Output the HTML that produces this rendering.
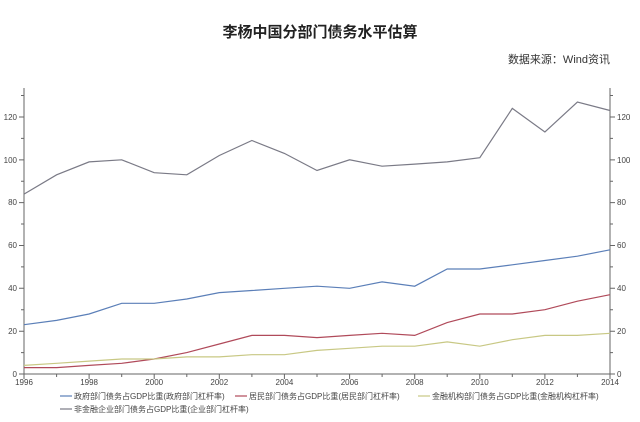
<!DOCTYPE html><html><head><meta charset="utf-8"><style>
body{margin:0;background:#fff;width:640px;height:417px;overflow:hidden;font-family:"Liberation Sans","Noto Sans CJK SC",sans-serif}
</style></head><body>
<svg width="640" height="417" xmlns="http://www.w3.org/2000/svg" font-family="Liberation Sans, Noto Sans CJK SC, sans-serif">
<text x="320" y="37" text-anchor="middle" font-size="15" font-weight="bold" fill="#222">李杨中国分部门债务水平估算</text>
<text x="610" y="63" text-anchor="end" font-size="11" fill="#333">数据来源：Wind资讯</text>
<g stroke="#666" stroke-width="1" fill="none">
<line x1="24" y1="88" x2="24" y2="374"/><line x1="610" y1="88" x2="610" y2="374"/><line x1="24" y1="374" x2="610" y2="374"/>
<path d="M19 374H24M19 331.2H24M19 288.3H24M19 245.5H24M19 202.6H24M19 159.9H24M19 117H24M21 352.6H24M21 309.7H24M21 266.9H24M21 224H24M21 181.2H24M21 138.4H24M21 95.5H24
M610 374H615M610 331.2H615M610 288.3H615M610 245.5H615M610 202.6H615M610 159.9H615M610 117H615M610 352.6H613M610 309.7H613M610 266.9H613M610 224H613M610 181.2H613M610 138.4H613M610 95.5H613
M24 374V379M56.6 374V377M89.1 374V379M121.7 374V377M154.2 374V379M186.8 374V377M219.3 374V379M251.9 374V377M284.4 374V379M317 374V377M349.6 374V379M382.1 374V377M414.7 374V379M447.2 374V377M479.8 374V379M512.3 374V377M544.9 374V379M577.4 374V377M610 374V379"/>
</g>
<g font-size="8" fill="#444" text-anchor="end">
<text x="17" y="377">0</text><text x="17" y="334">20</text><text x="17" y="291">40</text><text x="17" y="248">60</text><text x="17" y="205">80</text><text x="17" y="163">100</text><text x="17" y="120">120</text>
</g>
<g font-size="8" fill="#444">
<text x="617" y="377">0</text><text x="617" y="334">20</text><text x="617" y="291">40</text><text x="617" y="248">60</text><text x="617" y="205">80</text><text x="617" y="163">100</text><text x="617" y="120">120</text>
</g>
<g font-size="8" fill="#444" text-anchor="middle">
<text x="24" y="385">1996</text><text x="89.1" y="385">1998</text><text x="154.2" y="385">2000</text><text x="219.3" y="385">2002</text><text x="284.4" y="385">2004</text><text x="349.6" y="385">2006</text><text x="414.7" y="385">2008</text><text x="479.8" y="385">2010</text><text x="544.9" y="385">2012</text><text x="610" y="385">2014</text>
</g>
<g fill="none" stroke-width="1.2">
<polyline stroke="#7a7a86" points="24,194.1 56.6,174.8 89.1,161.9 121.7,159.8 154.2,172.7 186.8,174.8 219.3,155.5 251.9,140.5 284.4,153.4 317,170.5 349.6,159.8 382.1,166.2 414.7,164.1 447.2,161.9 479.8,157.7 512.3,108.4 544.9,132 577.4,102 610,110.5"/>
<polyline stroke="#5b7fb8" points="24,324.7 56.6,320.4 89.1,314 121.7,303.3 154.2,303.3 186.8,299 219.3,292.6 251.9,290.5 284.4,288.3 317,286.2 349.6,288.3 382.1,281.9 414.7,286.2 447.2,269 479.8,269 512.3,264.8 544.9,260.5 577.4,256.2 610,249.8"/>
<polyline stroke="#b04a5a" points="24,367.6 56.6,367.6 89.1,365.4 121.7,363.3 154.2,359 186.8,352.6 219.3,344 251.9,335.4 284.4,335.4 317,337.6 349.6,335.4 382.1,333.3 414.7,335.4 447.2,322.6 479.8,314 512.3,314 544.9,309.7 577.4,301.2 610,294.7"/>
<polyline stroke="#c8c884" points="24,365.4 56.6,363.3 89.1,361.1 121.7,359 154.2,359 186.8,356.9 219.3,356.9 251.9,354.7 284.4,354.7 317,350.4 349.6,348.3 382.1,346.2 414.7,346.2 447.2,341.9 479.8,346.2 512.3,339.7 544.9,335.4 577.4,335.4 610,333.3"/>
</g>
<g stroke-width="1.2">
<line x1="60" y1="396" x2="72" y2="396" stroke="#5b7fb8"/>
<line x1="235" y1="396" x2="247" y2="396" stroke="#b04a5a"/>
<line x1="418" y1="396" x2="430" y2="396" stroke="#c8c884"/>
<line x1="60" y1="409" x2="72" y2="409" stroke="#7a7a86"/>
</g>
<g font-size="8" fill="#444">
<text x="74" y="399">政府部门债务占GDP比重(政府部门杠杆率)</text>
<text x="249" y="399">居民部门债务占GDP比重(居民部门杠杆率)</text>
<text x="432" y="399">金融机构部门债务占GDP比重(金融机构杠杆率)</text>
<text x="74" y="412">非金融企业部门债务占GDP比重(企业部门杠杆率)</text>
</g>
</svg></body></html>
